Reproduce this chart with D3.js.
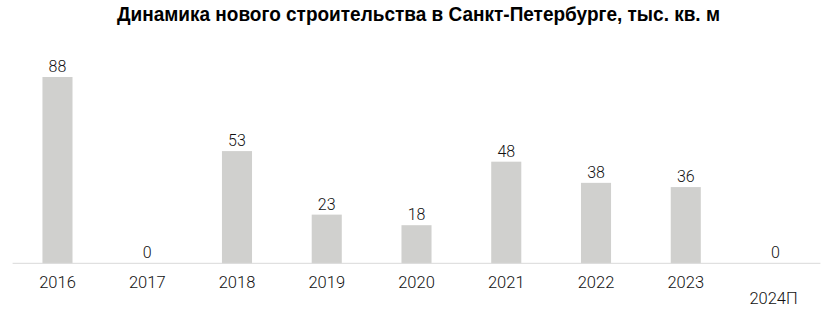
<!DOCTYPE html>
<html>
<head>
<meta charset="utf-8">
<script src="https://cdn.jsdelivr.net/npm/d3@7"></script>
<style>
  body { margin: 0; background: #fff; }
  .title { font-family: "Liberation Sans", Arial, sans-serif; font-weight: bold; font-size: 20px; fill: #000; }
  .val { font-family: Roboto, "Open Sans", sans-serif; font-weight: 300; font-size: 16px; fill: #111; }
  .tick text { font-family: Roboto, "Open Sans", sans-serif; font-weight: 300; font-size: 16.5px; fill: #111; }
</style>
</head>
<body>
<svg id="chart" width="834" height="313"></svg>
<script>
// chart data
const years = ['2016', '2017', '2018', '2019', '2020', '2021', '2022', '2023', '2024П'];
const values = [88, 0, 53, 23, 18, 48, 38, 36, 0];
const chartTitle = 'Динамика нового строительства в Санкт-Петербурге, тыс. кв. м';

function render() {
  const svg = d3.select('#chart');
  const left = 12.6, right = 820.4, baseY = 263.3;

  const xScale = d3.scaleBand()
    .domain(years)
    .range([left, right])
    .paddingInner(0.665)
    .paddingOuter(0.3325);

  const yScale = d3.scaleLinear()
    .domain([0, 88])
    .range([baseY, 77]);

  svg.append('text')
    .attr('class', 'title')
    .attr('x', 117)
    .attr('y', 21)
    .attr('textLength', 603)
    .attr('lengthAdjust', 'spacingAndGlyphs')
    .text(chartTitle);

  // bars
  svg.append('g').selectAll('rect')
    .data(years)
    .enter().append('rect')
    .attr('x', d => xScale(d))
    .attr('y', (d, i) => yScale(values[i]))
    .attr('width', xScale.bandwidth())
    .attr('height', (d, i) => baseY - yScale(values[i]))
    .attr('fill', '#d0d0ce');

  // axis
  const xAxis = d3.axisBottom(xScale).tickSize(0).tickPadding(13);
  const ax = svg.append('g')
    .attr('transform', `translate(0, ${baseY})`)
    .call(xAxis);
  ax.select('.domain').attr('stroke', '#d9d9d9').attr('stroke-width', 1).attr('d', `M${left},0H${right}`);
  ax.selectAll('.tick text')
    .attr('font-size', null).attr('font-family', null)
    .attr('dx', d => d === '2024П' ? '-2' : '0')
    .attr('dy', d => d === '2024П' ? '1.66em' : '0.71em');

  // value labels
  svg.append('g').selectAll('text')
    .data(years)
    .enter().append('text')
    .attr('class', 'val')
    .attr('x', d => xScale(d) + xScale.bandwidth() / 2)
    .attr('y', (d, i) => yScale(values[i]) - 5)
    .attr('text-anchor', 'middle')
    .text((d, i) => values[i]);
}

render();
</script>
</body>
</html>
